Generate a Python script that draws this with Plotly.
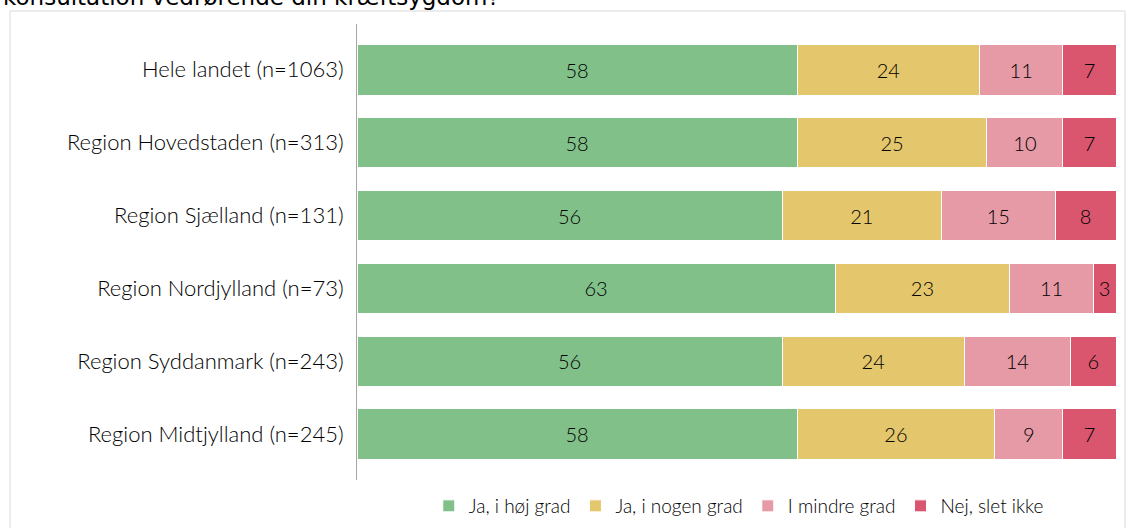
import plotly.graph_objects as go

# Survey answers per region (percent of respondents)
regions = [
    "Hele landet (n=1063)",
    "Region Hovedstaden (n=313)",
    "Region Sjælland (n=131)",
    "Region Nordjylland (n=73)",
    "Region Syddanmark (n=243)",
    "Region Midtjylland (n=245)",
]
answer_labels = ["Ja, i høj grad", "Ja, i nogen grad", "I mindre grad", "Nej, slet ikke"]
ja_hoej = [58, 58, 56, 63, 56, 58]
ja_nogen = [24, 25, 21, 23, 24, 26]
mindre = [11, 10, 15, 11, 14, 9]
nej = [7, 7, 8, 3, 6, 7]
title_text = "konsultation vedrørende din kræftsygdom?"

series = [ja_hoej, ja_nogen, mindre, nej]
colors = ["#82C08A", "#E4C66C", "#E59AA5", "#D9566E"]

W, H = 1126, 528
ML, MR, MT, MB = 357, 10, 24, 48
PW, PH = W - ML - MR, H - MT - MB


def px_x(x):
    return (x - ML) / PW


def px_y(y):
    return (H - MB - y) / PH


FONT = "Lato, 'Open Sans', sans-serif"
INK = "#000000"

fig = go.Figure()
for name, vals, col in zip(answer_labels, series, colors):
    fig.add_trace(go.Bar(
        y=regions,
        x=vals,
        name=name,
        orientation="h",
        marker=dict(color=col, line=dict(color="white", width=1)),
        width=0.695,
        text=[str(v) for v in vals],
        textposition="inside",
        insidetextanchor="middle",
        textangle=0,
        constraintext="none",
        textfont=dict(family=FONT, size=20, color=INK, weight=300),
        hoverinfo="skip",
    ))

# light frame around the chart area
fig.add_shape(type="rect", xref="paper", yref="paper",
              x0=px_x(10), x1=px_x(1125), y0=px_y(545), y1=px_y(11),
              line=dict(color="#D9D9D9", width=1), fillcolor="rgba(0,0,0,0)",
              layer="below")

fig.add_annotation(text=title_text, xref="paper", yref="paper",
                   x=px_x(1), y=px_y(-3), xanchor="left", yanchor="middle",
                   showarrow=False,
                   font=dict(family="DejaVu Sans", size=23, color="#000000"))

fig.update_layout(
    width=W, height=H,
    margin=dict(l=ML, r=MR, t=MT, b=MB, autoexpand=False),
    barmode="stack",
    plot_bgcolor="white",
    paper_bgcolor="white",
    font=dict(family=FONT, color=INK),
    showlegend=True,
    legend=dict(orientation="h", x=0.503, xanchor="center",
                y=px_y(506), yanchor="middle",
                font=dict(family=FONT, size=19, color=INK, weight=300),
                traceorder="normal", itemclick=False),
    xaxis=dict(range=[0, 100], visible=False, fixedrange=True),
    yaxis=dict(
        type="category",
        categoryorder="array", categoryarray=regions,
        range=[5.628, -0.628],
        showline=True, linecolor="#A6A6A6", linewidth=1,
        ticks="", showgrid=False, zeroline=False,
        ticklabelstandoff=8,
        tickfont=dict(family=FONT, size=22, color=INK, weight=300),
    ),
)

fig.write_html("out.html")
